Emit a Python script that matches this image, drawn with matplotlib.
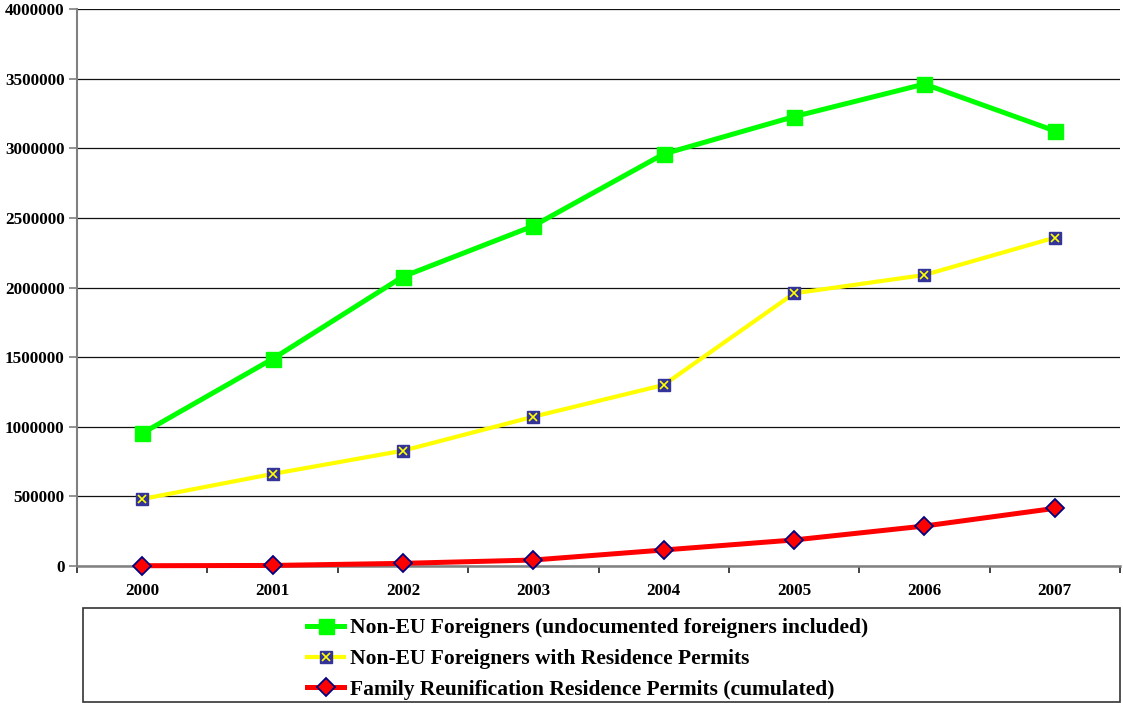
import matplotlib
matplotlib.use("Agg")
import matplotlib.pyplot as plt
from matplotlib.patches import Rectangle
from matplotlib.legend_handler import HandlerTuple

years = ["2000", "2001", "2002", "2003", "2004", "2005", "2006", "2007"]
non_eu_total = [953000, 1487000, 2078000, 2442000, 2959000, 3227000, 3461000, 3125000]
non_eu_permits = [481000, 661000, 828000, 1072000, 1300000, 1958000, 2090000, 2358000]
family_reunif = [2000, 4000, 19000, 43000, 115000, 187000, 287000, 414000]
y_ticks = [0, 500000, 1000000, 1500000, 2000000, 2500000, 3000000, 3500000, 4000000]

labels = [
    "Non-EU Foreigners (undocumented foreigners included)",
    "Non-EU Foreigners with Residence Permits",
    "Family Reunification Residence Permits (cumulated)",
]

plt.rcParams["font.family"] = ["Liberation Serif", "DejaVu Serif"]
plt.rcParams["font.weight"] = "bold"

W, H = 1123, 703
fig = plt.figure(figsize=(W / 100, H / 100), dpi=100)
ax = fig.add_axes([77 / W, 1 - 566 / H, (1120 - 77) / W, (566 - 9) / H])

x = list(range(len(years)))

ax.set_ylim(0, 4000000)
ax.set_xlim(-0.5, len(years) - 0.5)
ax.set_yticks(y_ticks)
ax.set_yticklabels([str(v) for v in y_ticks])
ax.yaxis.grid(True, color="#111111", linewidth=0.9)
ax.set_axisbelow(True)

l1, = ax.plot(x, non_eu_total, color="#00FF00", lw=3.6, marker="s", ms=10.8,
              mfc="#00FF00", mec="#00FF00", zorder=3)
l2, = ax.plot(x, non_eu_permits, color="#FFFF00", lw=3.0, marker="s", ms=8.4,
              mfc="#333399", mec="#333399", zorder=4)
l2x, = ax.plot(x, non_eu_permits, ls="none", marker="x", ms=6.2, mew=1.2,
               mec="#FFFF00", zorder=5)
l3, = ax.plot(x, family_reunif, color="#FF0000", lw=3.6, marker="D", ms=9.0,
              mfc="#FF0000", mec="#000080", mew=1.3, zorder=6, clip_on=False)

for s in ("top", "right"):
    ax.spines[s].set_visible(False)
ax.spines["left"].set_color("#808080")
ax.spines["left"].set_linewidth(1.5)
ax.spines["bottom"].set_color("#808080")
ax.spines["bottom"].set_linewidth(1.8)

ax.set_xticks(x)
ax.set_xticklabels(years)
ax.set_xticks([i - 0.5 for i in range(len(years) + 1)], minor=True)
ax.tick_params(axis="x", which="major", length=0, pad=12, labelsize=12.3)
ax.tick_params(axis="x", which="minor", length=5, width=1.2, color="#222222",
               direction="out")
ax.tick_params(axis="y", length=6, width=1.2, color="#808080", pad=3,
               labelsize=12.3)
for t in ax.get_xticklabels() + ax.get_yticklabels():
    t.set_fontweight("bold")

# legend frame
fig.patches.append(Rectangle((83 / W, 1 - 702 / H), (1120 - 83) / W, (702 - 608) / H,
                             transform=fig.transFigure, fill=False,
                             edgecolor="#333333", linewidth=1.2))
fig.legend([l1, (l2, l2x), l3], labels, loc="center",
           bbox_to_anchor=(588 / W, 1 - 659 / H), frameon=False,
           prop={"weight": "bold", "size": 15.5}, numpoints=1,
           handlelength=1.7, handletextpad=0.3, labelspacing=0.5,
           handler_map={tuple: HandlerTuple(ndivide=1)})

fig.savefig("out.png", dpi=100)
